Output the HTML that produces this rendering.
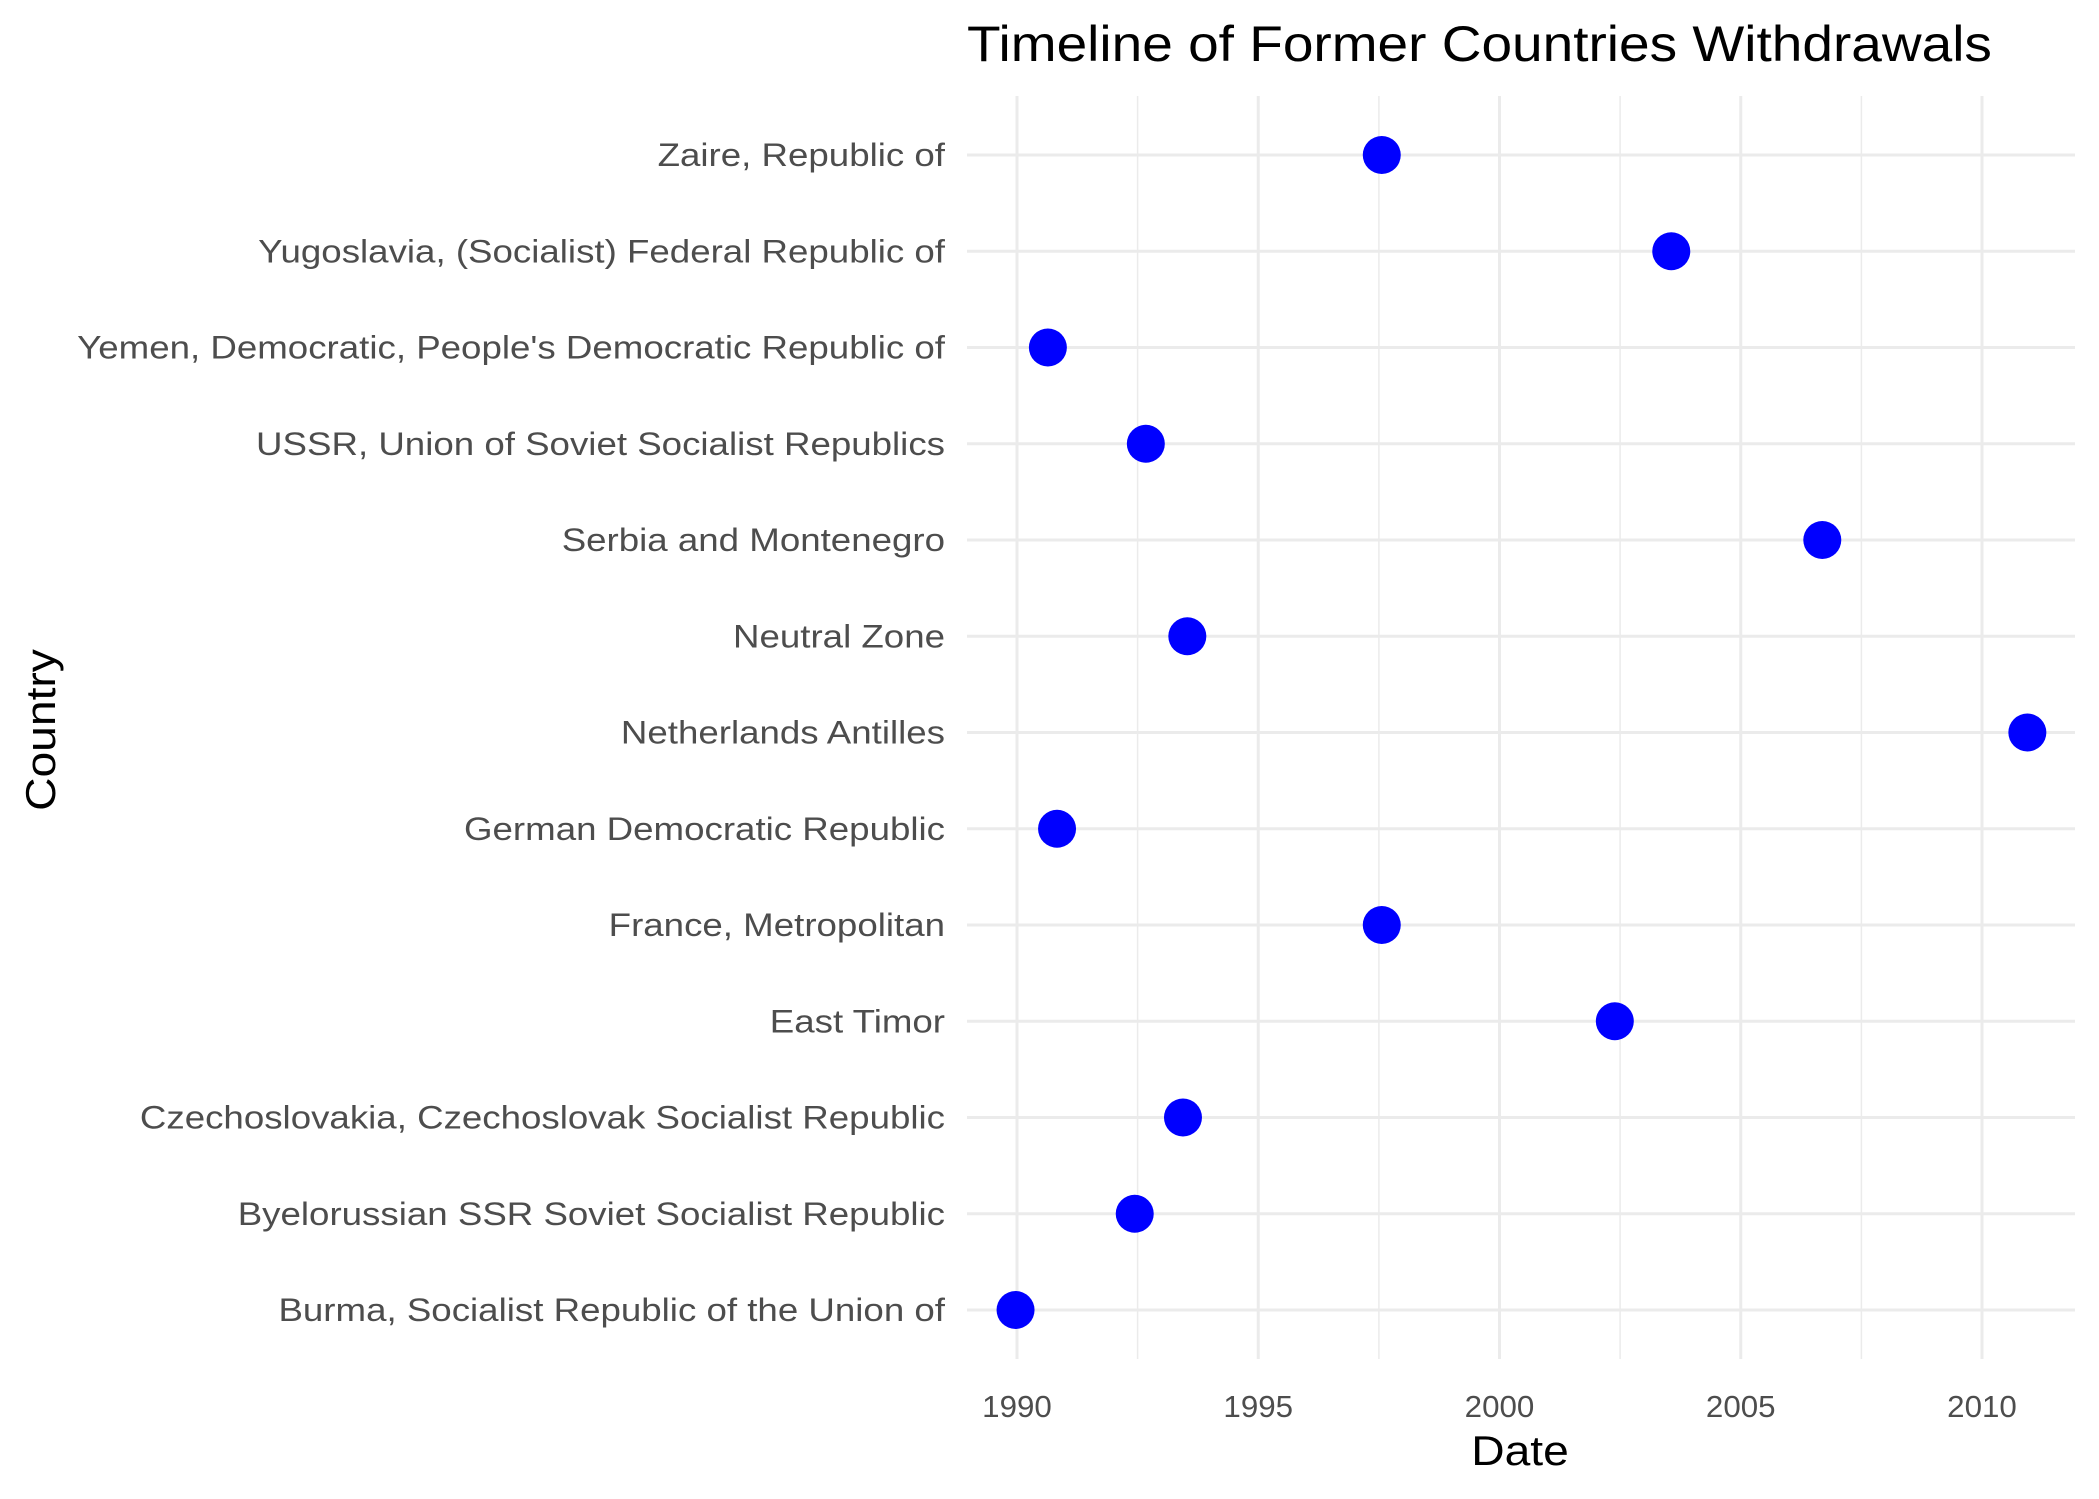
<!DOCTYPE html>
<html><head><meta charset="utf-8"><style>body{margin:0;background:#fff}svg{display:block}</style></head>
<body>
<svg id="chart" width="2099" height="1499" xmlns="http://www.w3.org/2000/svg" font-family="Liberation Sans, sans-serif"></svg>
<script>
const countries = ["Zaire, Republic of","Yugoslavia, (Socialist) Federal Republic of","Yemen, Democratic, People's Democratic Republic of","USSR, Union of Soviet Socialist Republics","Serbia and Montenegro","Neutral Zone","Netherlands Antilles","German Democratic Republic","France, Metropolitan","East Timor","Czechoslovakia, Czechoslovak Socialist Republic","Byelorussian SSR Soviet Socialist Republic","Burma, Socialist Republic of the Union of"];
const years = [1997.56,2003.56,1990.64,1992.67,2006.69,1993.53,2010.94,1990.83,1997.56,2002.39,1993.44,1992.44,1989.97];
const xTicks = [1990,1995,2000,2005,2010];
const xMinor = [1992.5,1997.5,2002.5,2007.5];

const svg = document.getElementById('chart');
const NS = 'http://www.w3.org/2000/svg';
const x = v => 1017 + (v - 1990) * 48.25;
const y = i => 155 + i * 96.25;
function mk(tag, attrs, parent) { const e = document.createElementNS(NS, tag); for (const k in attrs) e.setAttribute(k, attrs[k]); (parent||svg).appendChild(e); return e; }
function stretch(t, f) { const w = t.getComputedTextLength(); t.setAttribute('textLength', w * f); t.setAttribute('lengthAdjust', 'spacingAndGlyphs'); }

const grid = mk('g', {});


xMinor.forEach(v => { mk('line', {x1:x(v),x2:x(v),y1:96,y2:1359,stroke:'#ebebeb','stroke-width':1.5}, grid); });
xTicks.forEach(v => { mk('line', {x1:x(v),x2:x(v),y1:96,y2:1359,stroke:'#ebebeb','stroke-width':3}, grid); });
countries.forEach((c, i) => { mk('line', {x1:967,x2:2075,y1:y(i),y2:y(i),stroke:'#ebebeb','stroke-width':3}, grid); });

countries.forEach((c, i) => {
  const t = mk('text', {x:945,y:y(i)+11,'text-anchor':'end','font-size':32,fill:'#4d4d4d'});
  t.textContent = c;
  
  
  stretch(t, 1.146);
});
xTicks.forEach(v => {
  const t = mk('text', {x:x(v),y:1417,'text-anchor':'middle','font-size':31,fill:'#4d4d4d'});
  t.textContent = v;
  
  
  stretch(t, 1.01);
});
years.forEach((v, i) => {
  const p = mk('circle', {cx:x(v),cy:y(i),r:19,fill:'#0000ff'});
  
  
});
const ti = mk('text', {x:967,y:61,'font-size':50,fill:'#000'});
ti.textContent = 'Timeline of Former Countries Withdrawals';


stretch(ti, 1.10);
const xt = mk('text', {x:1520,y:1465,'text-anchor':'middle','font-size':42,fill:'#000'});
xt.textContent = 'Date';


stretch(xt, 1.1);
const yt = mk('text', {x:0,y:0,'text-anchor':'middle','font-size':42,fill:'#000',transform:'translate(55,730) rotate(-90)'});
yt.textContent = 'Country';


stretch(yt, 1.1);
</script>
</body></html>
